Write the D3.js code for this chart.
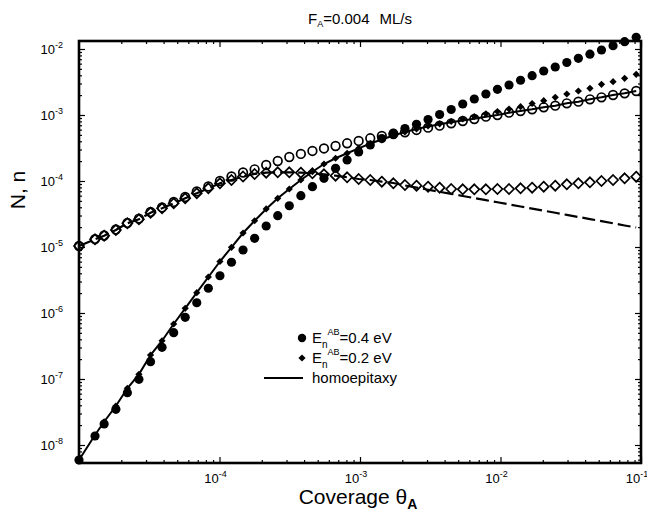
<!DOCTYPE html>
<html>
<head>
<meta charset="utf-8">
<script src="https://d3js.org/d3.v7.min.js"></script>
<style>
body { margin: 0; background: #fff; }
text { font-family: "Liberation Sans", Arial, Helvetica, sans-serif; fill: #000; }
</style>
</head>
<body>
<svg id="drawing_region"></svg>
<script>
// coverage grid (theta_A) of the simulation output
const coverage = [1.00e-5, 1.30e-5, 1.51e-5, 1.83e-5, 2.21e-5, 2.67e-5, 3.23e-5, 3.90e-5, 4.72e-5, 5.70e-5,
    6.89e-5, 8.33e-5, 1.007e-4, 1.217e-4, 1.471e-4, 1.778e-4, 2.149e-4, 2.597e-4, 3.139e-4, 3.794e-4,
    4.586e-4, 5.542e-4, 6.699e-4, 8.096e-4, 9.786e-4, 1.183e-3, 1.430e-3, 1.728e-3, 2.089e-3, 2.525e-3,
    3.051e-3, 3.688e-3, 4.457e-3, 5.387e-3, 6.511e-3, 7.870e-3, 9.511e-3, 1.150e-2, 1.389e-2, 1.679e-2,
    2.030e-2, 2.453e-2, 2.965e-2, 3.583e-2, 4.331e-2, 5.234e-2, 6.326e-2, 7.646e-2, 9.243e-2];

// island density N, E=0.4 eV (filled circles)
const islands04 = [5.93e-9, 1.37e-8, 2.08e-8, 3.47e-8, 6.20e-8, 9.90e-8, 1.83e-7, 3.02e-7, 5.03e-7, 8.61e-7,
    1.43e-6, 2.37e-6, 3.67e-6, 5.87e-6, 9.00e-6, 1.354e-5, 2.08e-5, 2.98e-5, 4.22e-5, 5.99e-5,
    8.19e-5, 1.099e-4, 1.557e-4, 2.08e-4, 2.75e-4, 3.51e-4, 4.40e-4, 5.34e-4, 6.24e-4, 7.23e-4,
    8.55e-4, 1.018e-3, 1.212e-3, 1.468e-3, 1.748e-3, 2.08e-3, 2.45e-3, 2.85e-3, 3.36e-3, 3.94e-3,
    4.64e-3, 5.34e-3, 6.24e-3, 7.23e-3, 8.34e-3, 9.66e-3, 1.122e-2, 1.290e-2, 1.504e-2];

// island density N, E=0.2 eV (filled diamonds)
const islands02 = [5.93e-9, 1.418e-8, 2.25e-8, 3.90e-8, 7.23e-8, 1.178e-7, 2.31e-7, 3.80e-7, 6.81e-7, 1.178e-6,
    2.03e-6, 3.51e-6, 6.03e-6, 9.90e-6, 1.63e-5, 2.50e-5, 3.77e-5, 5.47e-5, 7.56e-5, 1.036e-4,
    1.383e-4, 1.81e-4, 2.21e-4, 2.63e-4, 3.13e-4, 3.70e-4, 4.25e-4, 4.89e-4, 5.53e-4, 6.14e-4,
    6.81e-4, 7.36e-4, 7.97e-4, 8.70e-4, 9.49e-4, 1.043e-3, 1.13e-3, 1.233e-3, 1.336e-3, 1.494e-3,
    1.647e-3, 1.855e-3, 2.08e-3, 2.31e-3, 2.54e-3, 2.92e-3, 3.20e-3, 3.60e-3, 4.14e-3];

// island density N, homoepitaxy (solid line)
const islandsHomo = [5.93e-9, 1.418e-8, 2.25e-8, 3.90e-8, 7.23e-8, 1.178e-7, 2.31e-7, 3.80e-7, 6.81e-7, 1.178e-6,
    2.03e-6, 3.51e-6, 6.03e-6, 9.90e-6, 1.63e-5, 2.50e-5, 3.77e-5, 5.47e-5, 7.56e-5, 1.036e-4,
    1.383e-4, 1.81e-4, 2.21e-4, 2.63e-4, 3.13e-4, 3.70e-4, 4.25e-4, 4.89e-4, 5.53e-4, 6.14e-4,
    6.70e-4, 7.23e-4, 7.75e-4, 8.25e-4, 8.76e-4, 9.42e-4, 1.0e-3, 1.083e-3, 1.150e-3, 1.220e-3,
    1.308e-3, 1.383e-3, 1.504e-3, 1.59e-3, 1.73e-3, 1.855e-3, 2.01e-3, 2.13e-3, 2.31e-3];

// monomer density n, E=0.4 eV (open circles)
const monomers04 = [1.036e-5, 1.32e-5, 1.494e-5, 1.842e-5, 2.31e-5, 2.70e-5, 3.39e-5, 3.97e-5, 4.81e-5, 5.72e-5,
    6.93e-5, 8.25e-5, 1.0e-4, 1.170e-4, 1.345e-4, 1.504e-4, 1.748e-4, 2.01e-4, 2.31e-4, 2.57e-4,
    2.85e-4, 3.11e-4, 3.39e-4, 3.73e-4, 4.04e-4, 4.44e-4, 4.81e-4, 5.15e-4, 5.47e-4, 5.93e-4,
    6.42e-4, 6.88e-4, 7.49e-4, 8.11e-4, 8.70e-4, 9.42e-4, 1.0e-3, 1.083e-3, 1.150e-3, 1.220e-3,
    1.308e-3, 1.383e-3, 1.504e-3, 1.59e-3, 1.73e-3, 1.855e-3, 2.01e-3, 2.13e-3, 2.31e-3];

// monomer density n, E=0.2 eV (open diamonds)
const monomers02 = [1.036e-5, 1.308e-5, 1.483e-5, 1.81e-5, 2.29e-5, 2.63e-5, 3.31e-5, 3.86e-5, 4.59e-5, 5.47e-5,
    6.51e-5, 7.75e-5, 9.23e-5, 1.036e-4, 1.170e-4, 1.277e-4, 1.336e-4, 1.354e-4, 1.354e-4, 1.336e-4,
    1.308e-4, 1.263e-4, 1.203e-4, 1.138e-4, 1.072e-4, 1.036e-4, 9.76e-5, 9.23e-5, 8.70e-5, 8.49e-5,
    8.19e-5, 7.91e-5, 7.56e-5, 7.49e-5, 7.49e-5, 7.49e-5, 7.56e-5, 7.56e-5, 7.75e-5, 7.91e-5,
    8.19e-5, 8.49e-5, 8.91e-5, 9.23e-5, 9.56e-5, 1.0e-4, 1.036e-4, 1.099e-4, 1.162e-4];

// monomer density n, homoepitaxy (dashed line)
const monomersHomo = [1.036e-5, 1.308e-5, 1.483e-5, 1.81e-5, 2.29e-5, 2.63e-5, 3.31e-5, 3.86e-5, 4.59e-5, 5.47e-5,
    6.51e-5, 7.75e-5, 9.23e-5, 1.036e-4, 1.170e-4, 1.277e-4, 1.336e-4, 1.354e-4, 1.354e-4, 1.336e-4,
    1.308e-4, 1.263e-4, 1.203e-4, 1.138e-4, 1.072e-4, 1.036e-4, 9.76e-5, 9.33e-5, 8.55e-5, 7.94e-5,
    7.38e-5, 6.86e-5, 6.38e-5, 5.93e-5, 5.51e-5, 5.12e-5, 4.76e-5, 4.42e-5, 4.11e-5, 3.82e-5,
    3.55e-5, 3.30e-5, 3.06e-5, 2.85e-5, 2.65e-5, 2.46e-5, 2.29e-5, 2.12e-5, 1.975e-5];

// axes
const xDomain = [1e-5, 1e-1];
const yDomain = [5.337e-9, 1.322e-2];
const xMajor = [1e-4, 1e-3, 1e-2, 1e-1];
const xMajorLabels = ["-4", "-3", "-2", "-1"];
const yMajor = [1e-8, 1e-7, 1e-6, 1e-5, 1e-4, 1e-3, 1e-2];
const yMajorLabels = ["-8", "-7", "-6", "-5", "-4", "-3", "-2"];

const legendLabels = ["=0.4 eV", "=0.2 eV", "homoepitaxy"];

class LogPlot {

    constructor( config ) {
        this.config = config;
        this.init();
    }

    init() {
        let self = this;
        const c = self.config;

        self.svg = d3.select( c.parent )
            .attr('width', c.width)
            .attr('height', c.height);

        self.chart = self.svg.append('g')
            .attr('transform', `translate(${c.margin.left}, ${c.margin.top})`);

        self.inner_width = c.width - c.margin.left - c.margin.right;
        self.inner_height = c.height - c.margin.top - c.margin.bottom;

        self.xscale = d3.scaleLog()
            .domain( xDomain )
            .range( [0, self.inner_width] );

        self.yscale = d3.scaleLog()
            .domain( yDomain )
            .range( [self.inner_height, 0] );
    }

    minorTicks( domain ) {
        let ticks = [];
        for (let e = -10; e <= 0; e++) {
            for (let m = 2; m <= 9; m++) {
                const v = m * Math.pow(10, e);
                if (v > domain[0] && v < domain[1]) ticks.push(v);
            }
        }
        return ticks;
    }

    renderAxes() {
        let self = this;
        const w = self.inner_width, h = self.inner_height;
        const xMinor = self.minorTicks( xDomain );
        const yMinor = self.minorTicks( yDomain );

        const tickGroups = [
            [d3.axisBottom, self.xscale, `translate(0, ${h})`],
            [d3.axisTop, self.xscale, `translate(0, 0)`],
            [d3.axisLeft, self.yscale, `translate(0, 0)`],
            [d3.axisRight, self.yscale, `translate(${w}, 0)`]
        ];
        tickGroups.forEach( ([axisFn, scale, tr]) => {
            const isX = scale === self.xscale;
            const major = isX ? xMajor : yMajor;
            const minor = isX ? xMinor : yMinor;
            [[major, 6], [minor, 3]].forEach( ([vals, len]) => {
                self.chart.append('g')
                    .attr('transform', tr)
                    .call( axisFn(scale).tickValues(vals).tickSize(-len).tickFormat('') )
                    .call( g => g.select('.domain').remove() )
                    .selectAll('line')
                    .attr('stroke', '#000')
                    .attr('stroke-width', 1.2);
            });
        });

        // frame
        self.chart.append('rect')
            .attr('x', 0).attr('y', 0)
            .attr('width', w).attr('height', h)
            .attr('fill', 'none')
            .attr('stroke', '#000')
            .attr('stroke-width', 2.6);

        // tick labels 10^k
        const xl = self.chart.selectAll('.xlabel')
            .data(xMajor)
            .enter()
            .append('text')
            .attr('class', 'xlabel')
            .attr('x', d => self.xscale(d) - 4)
            .attr('y', h + 20)
            .attr('text-anchor', 'middle')
            .attr('font-size', '13px');
        xl.append('tspan').text('10');
        xl.append('tspan').attr('dy', -6).attr('font-size', '9px').text( (d, i) => xMajorLabels[i] );

        const yl = self.chart.selectAll('.ylabel')
            .data(yMajor)
            .enter()
            .append('text')
            .attr('class', 'ylabel')
            .attr('x', -16)
            .attr('y', d => self.yscale(d) + 5)
            .attr('text-anchor', 'end')
            .attr('font-size', '13px');
        yl.append('tspan').text('10');
        yl.append('tspan').attr('dy', -6).attr('font-size', '9px').text( (d, i) => yMajorLabels[i] );

        // axis titles
        const xt = self.svg.append('text')
            .attr('x', 358)
            .attr('y', 504)
            .attr('text-anchor', 'middle')
            .attr('font-size', '21px');
        xt.append('tspan').text('Coverage θ');
        xt.append('tspan').attr('dy', 5).attr('font-size', '14px').attr('font-weight', 'bold').text('A');

        self.svg.append('text')
            .attr('transform', 'translate(25, 190) rotate(-90)')
            .attr('text-anchor', 'middle')
            .attr('font-size', '21px')
            .text('N, n');

        const title = self.svg.append('text')
            .attr('x', 360)
            .attr('y', 24)
            .attr('text-anchor', 'middle')
            .attr('font-size', '15px');
        title.append('tspan').text('F');
        title.append('tspan').attr('dy', 3).attr('font-size', '9px').text('A');
        title.append('tspan').attr('dy', -3).text('=0.004');
        title.append('tspan').attr('dx', 10).text('ML/s');
    }

    renderSeries() {
        let self = this;
        const pts = ys => coverage.map( (x, i) => [x, ys[i]] );
        const line = d3.line()
            .x( d => self.xscale(d[0]) )
            .y( d => self.yscale(d[1]) );

        self.chart.append('path')
            .datum( pts(monomersHomo) )
            .attr('d', line)
            .attr('fill', 'none')
            .attr('stroke', '#000')
            .attr('stroke-width', 2.2)
            .attr('stroke-dasharray', '13,5');

        self.chart.append('path')
            .datum( pts(islandsHomo) )
            .attr('d', line)
            .attr('fill', 'none')
            .attr('stroke', '#000')
            .attr('stroke-width', 2);

        const diamond = r => `M0,${-r}L${r},0L0,${r}L${-r},0Z`;

        self.chart.append('g').selectAll('path')
            .data( pts(monomers02) )
            .enter()
            .append('path')
            .attr('transform', d => `translate(${self.xscale(d[0])}, ${self.yscale(d[1])})`)
            .attr('d', diamond(5))
            .attr('fill', 'none')
            .attr('stroke', '#000')
            .attr('stroke-width', 1.7);

        self.chart.append('g').selectAll('circle')
            .data( pts(monomers04) )
            .enter()
            .append('circle')
            .attr('cx', d => self.xscale(d[0]))
            .attr('cy', d => self.yscale(d[1]))
            .attr('r', 4.3)
            .attr('fill', 'none')
            .attr('stroke', '#000')
            .attr('stroke-width', 1.7);

        self.chart.append('g').selectAll('path')
            .data( pts(islands02) )
            .enter()
            .append('path')
            .attr('transform', d => `translate(${self.xscale(d[0])}, ${self.yscale(d[1])})`)
            .attr('d', diamond(3.6))
            .attr('fill', '#000');

        self.chart.append('g').selectAll('circle')
            .data( pts(islands04) )
            .enter()
            .append('circle')
            .attr('cx', d => self.xscale(d[0]))
            .attr('cy', d => self.yscale(d[1]))
            .attr('r', 4.6)
            .attr('fill', '#000');
    }

    renderLegend() {
        let self = this;
        const lg = self.svg.append('g');
        const rowY = [338, 358, 378];

        lg.append('circle').attr('cx', 302).attr('cy', rowY[0]).attr('r', 4.2).attr('fill', '#000');
        lg.append('path').attr('d', `M302,${rowY[1] - 3.6}L305.6,${rowY[1]}L302,${rowY[1] + 3.6}L298.4,${rowY[1]}Z`).attr('fill', '#000');
        lg.append('line')
            .attr('x1', 264).attr('x2', 303)
            .attr('y1', rowY[2]).attr('y2', rowY[2])
            .attr('stroke', '#000').attr('stroke-width', 2);

        [0, 1].forEach( i => {
            const t = lg.append('text')
                .attr('x', 312)
                .attr('y', rowY[i] + 5)
                .attr('font-size', '15px');
            t.append('tspan').text('E');
            t.append('tspan').attr('dy', 5).attr('font-size', '10px').text('n');
            t.append('tspan').attr('dy', -13).attr('font-size', '9px').text('AB');
            t.append('tspan').attr('dy', 8).text(legendLabels[i]);
        });

        lg.append('text')
            .attr('x', 312)
            .attr('y', rowY[2] + 5)
            .attr('font-size', '15px')
            .text(legendLabels[2]);
    }

    render() {
        this.renderSeries();
        this.renderAxes();
        this.renderLegend();
    }
}

const config = {
    parent: '#drawing_region',
    width: 647,
    height: 514,
    margin: {top: 41, right: 6, bottom: 51, left: 79}
};

const plot = new LogPlot( config );
plot.render();
</script>
</body>
</html>
